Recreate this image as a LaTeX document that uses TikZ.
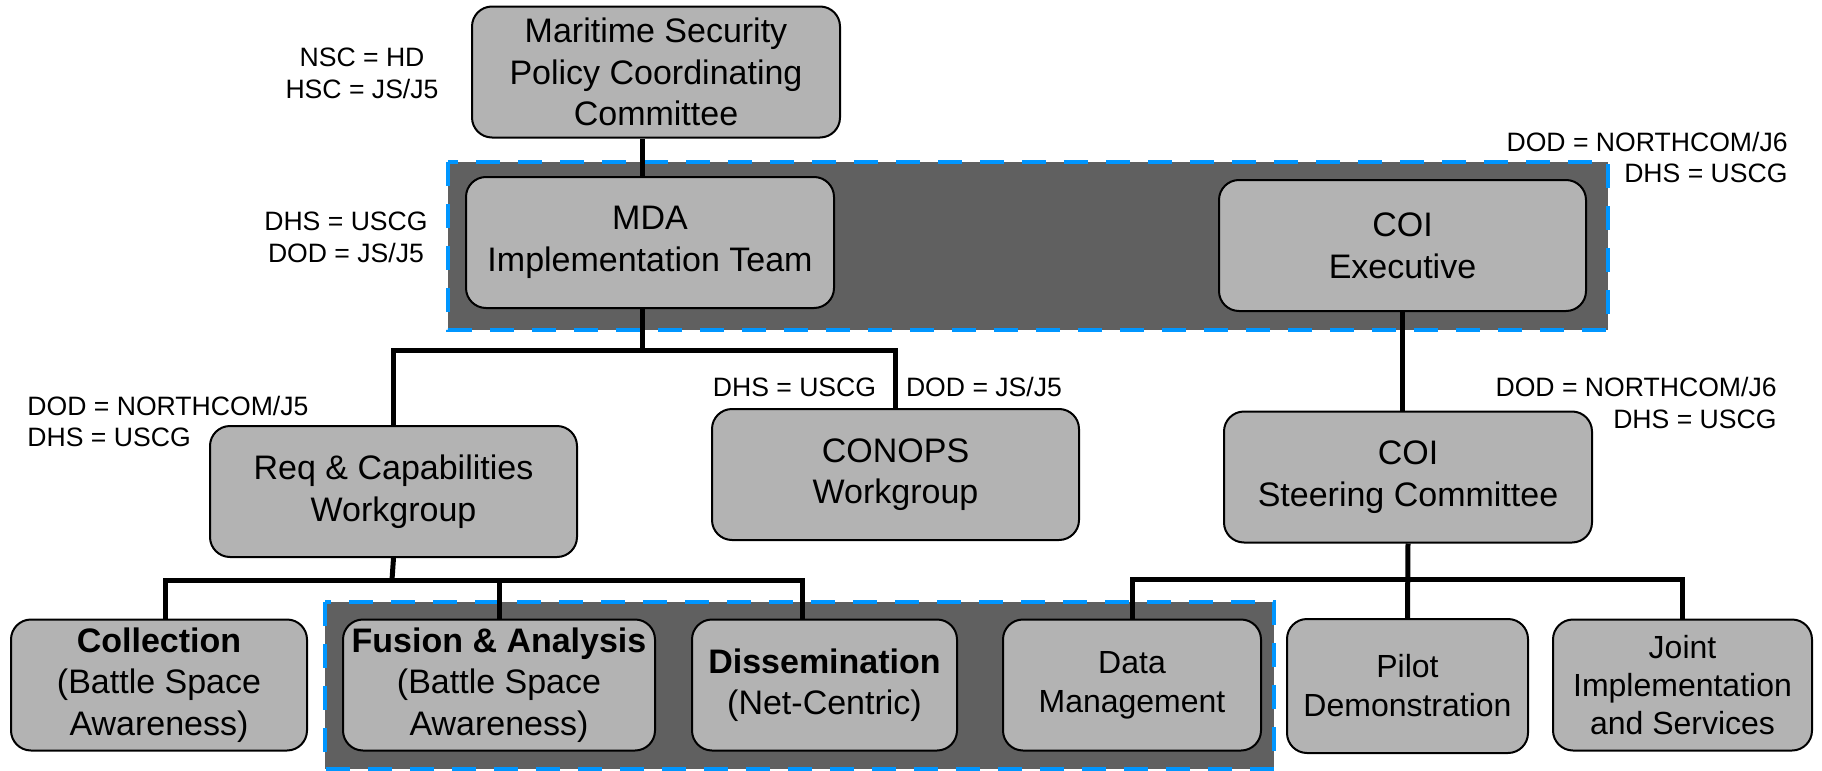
\documentclass[tikz,border=0pt]{standalone}
\usepackage{fontspec}
\setmainfont{Liberation Sans}
\usepackage{tikz}
\definecolor{boxgray}{RGB}{179,179,179}
\definecolor{bandgray}{RGB}{96,96,96}
\definecolor{bandblue}{RGB}{0,150,255}
\newcommand{\boxfont}{\fontsize{17}{20.8}\selectfont}
\newcommand{\smallboxfont}{\fontsize{16}{19.5}\selectfont}
\newcommand{\lblfont}{\fontsize{13.3}{15.9}\selectfont}

\begin{document}
\begin{tikzpicture}
[x=0.5pt,y=-0.5pt
,ob/.style={draw,line width=1pt,fill=boxgray,rounded corners=10pt,align=center,font=\boxfont,inner sep=0pt,minimum height=65.5pt}
,sob/.style={ob,font=\smallboxfont}
,grp/.style={draw=bandblue,fill=bandgray,line width=2pt,dash pattern=on 12pt off 9pt}
,link/.style={line width=2.5pt}
,lbl/.style={font=\lblfont,inner sep=0pt}]
\useasboundingbox (0,0) rectangle (1822,771);
% grouping bands
\draw[grp] (448,162) rectangle (1608,330);
\draw[grp] (325,602) rectangle (1274,769);
% boxes
\node[ob,minimum width=184pt] (msp) at (656,72) {Maritime Security\\Policy Coordinating\\Committee};
\node[ob,minimum width=184pt] (mda) at (650,242.5) {MDA\\Implementation Team};
\node[ob,minimum width=183.5pt] (coiexec) at (1402.5,245.5) {COI\\Executive};
\node[ob,minimum width=183.5pt] (req) at (393.5,491.5) {Req \& Capabilities\\Workgroup};
\node[ob,minimum width=183.5pt] (conops) at (895.5,474.5) {CONOPS\\Workgroup};
\node[ob,minimum width=184pt] (coisteer) at (1408,477) {COI\\Steering Committee};
\node[ob,minimum width=148pt] (collection) at (159,685) {\textbf{Collection}\\(Battle Space\\Awareness)};
\node[ob,minimum width=156pt] (fusion) at (499,685) {\textbf{Fusion \& Analysis}\\(Battle Space\\Awareness)};
\node[ob,minimum width=132.5pt] (dissem) at (824.5,685) {\textbf{Dissemination}\\(Net-Centric)};
\node[sob,minimum width=129pt] (datamgmt) at (1132,685) {Data\\Management};
\node[sob,minimum width=120.5pt,minimum height=67pt] (pilot) at (1407.5,686) {Pilot\\Demonstration};
\node[sob,minimum width=129.5pt,font=\fontsize{16}{19}\selectfont] (joint) at (1682.5,685) {Joint\\Implementation\\and Services};
% labels
\node[lbl,align=center] (lblmsp) at (362,73) {NSC = HD\\HSC = JS/J5};
\node[lbl,align=center] (lblmda) at (346,237.5) {DHS = USCG\\DOD = JS/J5};
\node[lbl,align=right,anchor=east] (lblexec) at (1788,157.5) {DOD = NORTHCOM/J6\\DHS = USCG};
\node[lbl,align=right,anchor=east] (lblsteer) at (1777,403) {DOD = NORTHCOM/J6\\DHS = USCG};
\node[lbl,align=left,anchor=west] (lblreq) at (27,421.5) {DOD = NORTHCOM/J5\\DHS = USCG};
\node[lbl] (lblconopsa) at (794.5,387) {DHS = USCG};
\node[lbl] (lblconopsb) at (984,387) {DOD = JS/J5};
% connectors
\coordinate (j1) at (642,350);
\coordinate (j2) at (392,580);
\coordinate (j3) at (1407,579);
\draw[link] ([xshift=-4pt]mda.north) -- ([xshift=-4pt]mda.north |- msp.south);
\draw[link] ([xshift=-4pt]mda.south) -- (j1);
\draw[link] (req.north) |- (j1) -| (conops.north);
\draw[link] (req.south) -- (j2);
\draw[link] ([xshift=3pt]collection.north) |- (j2) -| ([xshift=-11pt]dissem.north);
\draw[link] (fusion.north) -- (fusion.north |- j2);
\draw[link] (coiexec.south) -- (coiexec.south |- coisteer.north);
\draw[link] (coisteer.south) -- (pilot.north);
\draw[link] (datamgmt.north) |- (j3) -| (joint.north);
\end{tikzpicture}
\end{document}
